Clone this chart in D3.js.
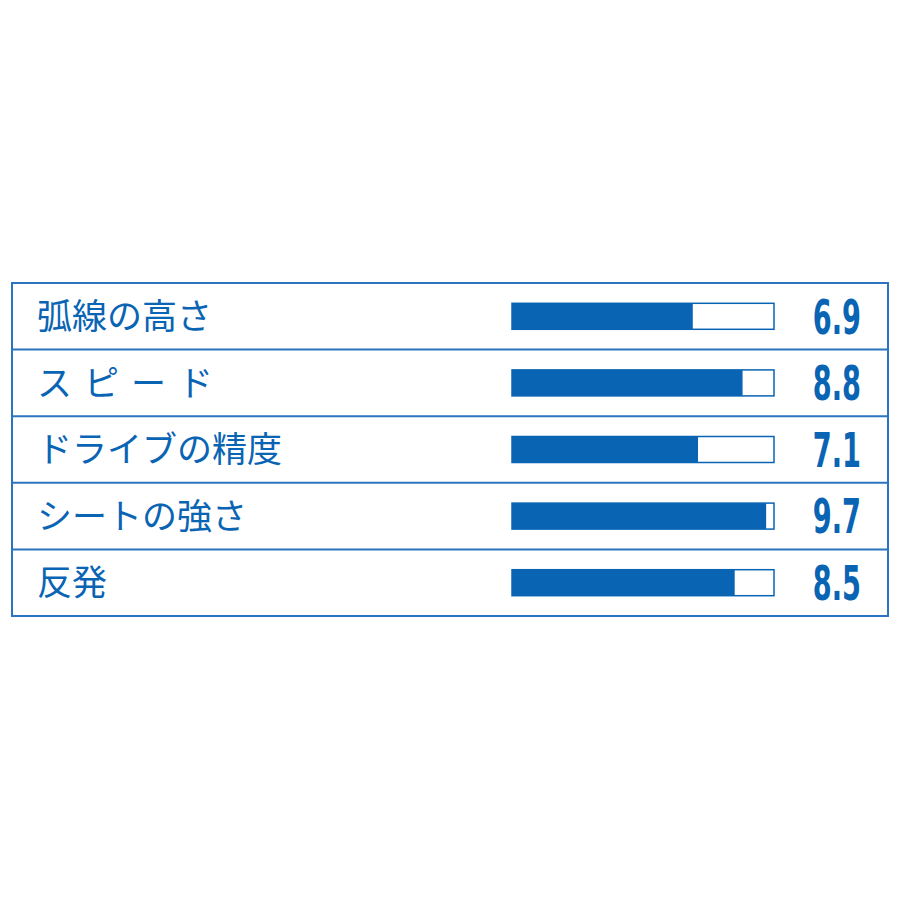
<!DOCTYPE html>
<html><head><meta charset="utf-8">
<script src="https://d3js.org/d3.v7.min.js"></script>
<style>body{margin:0;background:#fff}</style>
</head><body>
<svg id="c" width="900" height="900"></svg>
<script>
const categories = ["弧線の高さ", "スピード", "ドライブの精度", "シートの強さ", "反発"];
const values = [6.9, 8.8, 7.1, 9.7, 8.5];
const valueLabels = ["6.9", "8.8", "7.1", "9.7", "8.5"];
const maxValue = 10;

const blue = "#0a64b4";
const lineBlue = "#2a74c0";
const svg = d3.select("#c");

const box = {x0: 12, x1: 888, y0: 283, y1: 616};
const y = d3.scaleBand().domain(categories).range([box.y0, box.y1]).paddingInner(0).paddingOuter(0);
const x = d3.scaleLinear().domain([0, maxValue]).range([512, 774]);
const barH = 26;

// outer box
svg.append("rect").attr("x", box.x0).attr("y", box.y0)
  .attr("width", box.x1 - box.x0).attr("height", box.y1 - box.y0)
  .attr("fill", "none").attr("stroke", lineBlue).attr("stroke-width", 2);

// row separators
svg.selectAll("line.sep").data(categories.slice(1)).join("line")
  .attr("class", "sep")
  .attr("x1", box.x0).attr("x2", box.x1)
  .attr("y1", d => y(d)).attr("y2", d => y(d))
  .attr("stroke", lineBlue).attr("stroke-width", 2);

const rows = svg.selectAll("g.row").data(categories).join("g").attr("class", "row")
  .attr("transform", d => `translate(0,${y(d) + y.bandwidth() / 2})`);

// labels
const spacing = {"スピード": 12};
rows.append("text")
  .attr("x", 37).attr("y", 0).attr("dy", "0.36em")
  .attr("font-family", "'Noto Sans CJK JP', sans-serif")
  .attr("font-size", 35)
  .attr("fill", blue)
  .attr("letter-spacing", d => spacing[d] || 0)
  .text(d => d);

// bar background (outline)
rows.append("rect")
  .attr("x", x(0)).attr("y", -barH / 2)
  .attr("width", x(maxValue) - x(0)).attr("height", barH)
  .attr("fill", "#fff").attr("stroke", blue).attr("stroke-width", 1.5);

// bar fill
rows.append("rect")
  .attr("x", x(0)).attr("y", -barH / 2)
  .attr("width", (d, i) => x(values[i]) - x(0)).attr("height", barH)
  .attr("fill", blue);

// values
rows.append("text")
  .attr("transform", "translate(861,0) scale(0.63,1)")
  .attr("x", 0).attr("y", 0).attr("dy", "0.36em")
  .attr("text-anchor", "end")
  .attr("font-family", "'Liberation Sans Narrow', 'DejaVu Sans Condensed', sans-serif")
  .attr("font-weight", "bold")
  .attr("font-size", 48)
  .attr("fill", blue)
  .text((d, i) => valueLabels[i]);
</script>
</body></html>
